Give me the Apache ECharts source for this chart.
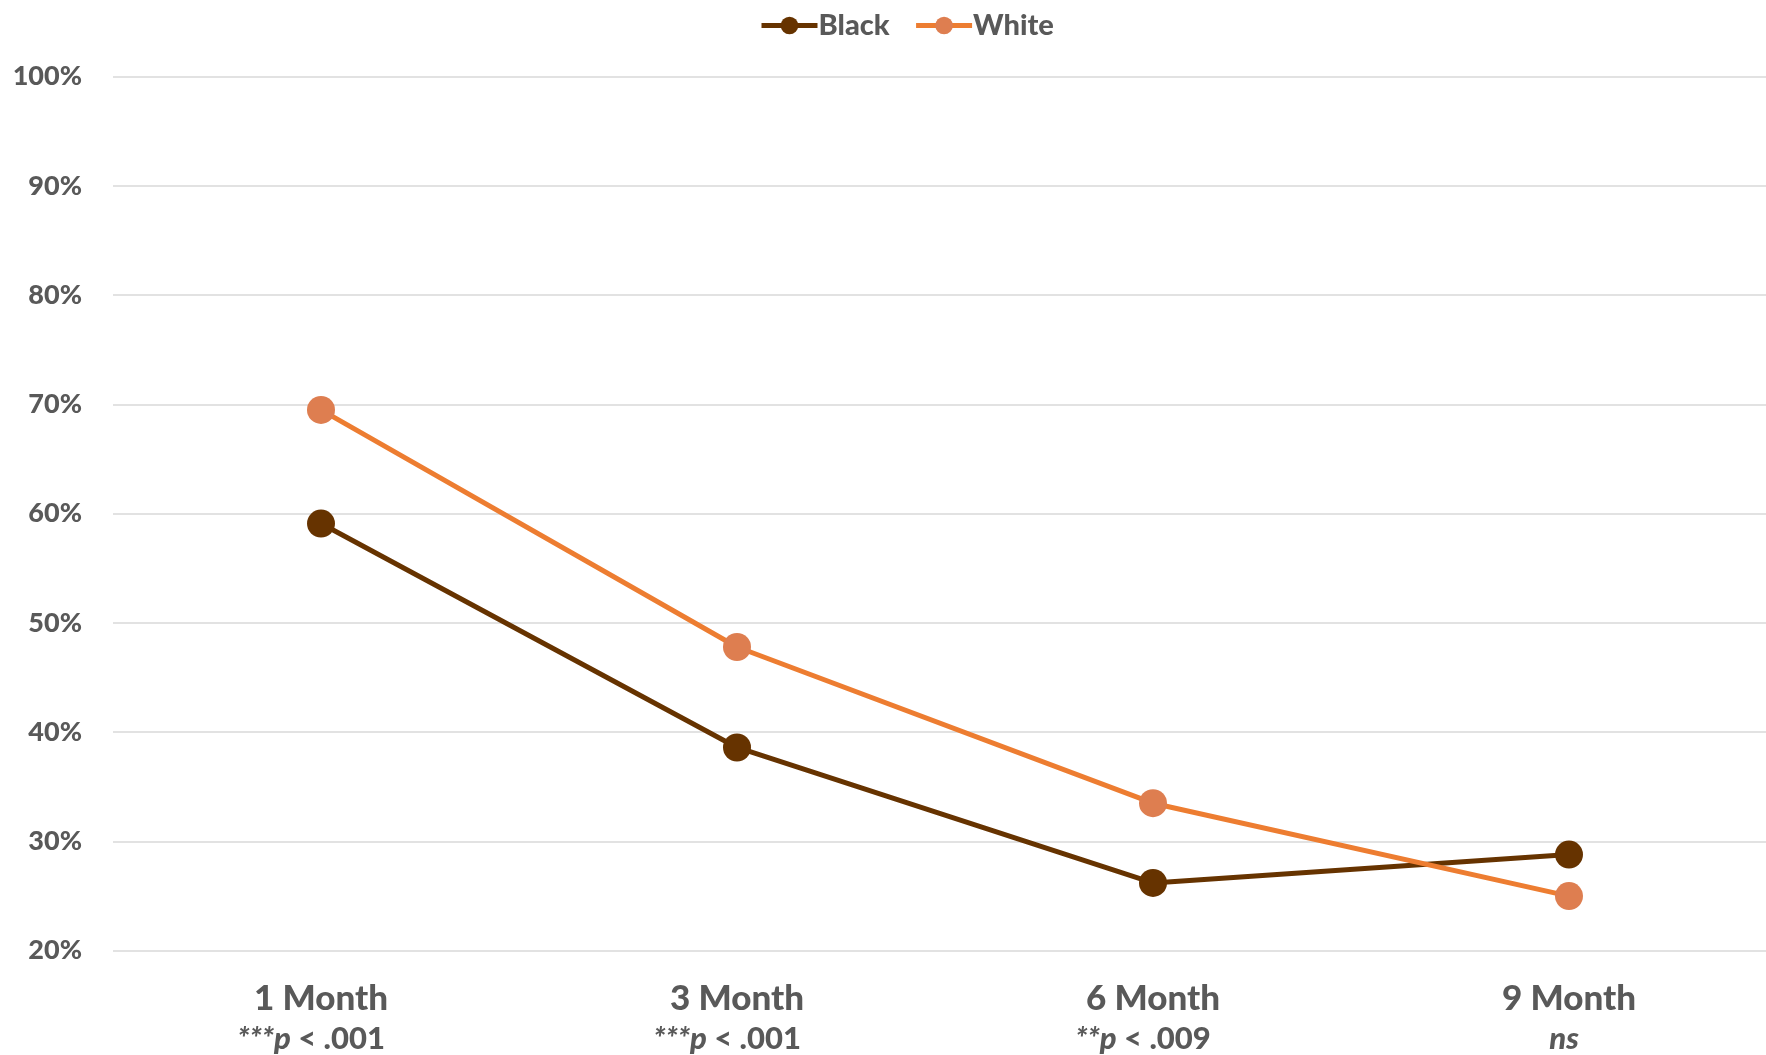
<!DOCTYPE html>
<html><head><meta charset="utf-8">
<script src="https://cdn.jsdelivr.net/npm/echarts@6/dist/echarts.min.js"></script>
<style>html,body{margin:0;padding:0;background:#fff;overflow:hidden}#c{width:1777px;height:1055px}</style>
</head><body><div id="c"></div>
<script>
const categories = ['1 Month', '3 Month', '6 Month', '9 Month'];
const stars = ['***', '***', '**', ''];
const pvals = ['p', 'p', 'p', 'ns'];
const pRest = [' < .001', ' < .001', ' < .009', ''];
const blackValues = [59.1, 38.6, 26.2, 28.8];
const whiteValues = [69.5, 47.8, 33.5, 25.0];
const yTicks = { min: 20, max: 100, interval: 10 };

const FONT = 'Lato';
const GRAY = '#595959';
const W = '900';
const chart = echarts.init(document.getElementById('c'));
chart.setOption({
  animation: false,
  legend: {
    top: 6, left: 754,
    itemWidth: 56, itemHeight: 22, itemGap: 24,
    lineStyle: { width: 5 },
    textStyle: { fontFamily: FONT, fontWeight: W, fontSize: 29, color: GRAY, padding: [0, 0, 0, -4] },
    data: ['Black', 'White']
  },
  grid: { left: 113, right: 0, top: 76.7, bottom: 104.3 },
  xAxis: {
    type: 'category', data: categories,
    axisLine: { show: false }, axisTick: { show: false },
    axisLabel: {
      margin: 28,
      interval: 0,
      formatter: function (v, i) {
        let s = '{m|' + v + '}\n';
        if (stars[i]) s += '{s|' + stars[i] + '}';
        if (pRest[i]) s += '{i|' + pvals[i] + '}{r|' + pRest[i] + '}';
        else s += '{n|' + pvals[i] + '}';
        return s;
      },
      rich: {
        m: { fontFamily: FONT, fontWeight: W, fontSize: 35, color: GRAY, lineHeight: 40 },
        s: { fontFamily: FONT, fontWeight: W, fontStyle: 'italic', fontSize: 31, color: GRAY, lineHeight: 40 },
        i: { fontFamily: FONT, fontWeight: W, fontStyle: 'italic', fontSize: 31, color: GRAY, lineHeight: 40 },
        n: { fontFamily: FONT, fontWeight: W, fontStyle: 'italic', fontSize: 31, color: GRAY, lineHeight: 40, padding: [0, 10, 0, 0] },
        r: { fontFamily: FONT, fontWeight: W, fontSize: 31, color: GRAY, lineHeight: 40, padding: [0, 20, 0, 0] }
      }
    }
  },
  yAxis: {
    type: 'value', min: yTicks.min, max: yTicks.max, interval: yTicks.interval,
    axisLine: { show: false }, axisTick: { show: false },
    axisLabel: { formatter: '{value}%', margin: 31, fontFamily: FONT, fontWeight: W, fontSize: 27, color: GRAY },
    splitLine: { lineStyle: { color: '#D9D9D9', width: 1.5 } }
  },
  series: [
    {
      name: 'Black', type: 'line', data: blackValues,
      symbol: 'circle', symbolSize: 28,
      lineStyle: { color: '#663300', width: 5 },
      itemStyle: { color: '#663300' }
    },
    {
      name: 'White', type: 'line', data: whiteValues,
      symbol: 'circle', symbolSize: 28,
      lineStyle: { color: '#ED7D31', width: 5 },
      itemStyle: { color: '#DE7E50' }
    }
  ]
});
</script></body></html>
